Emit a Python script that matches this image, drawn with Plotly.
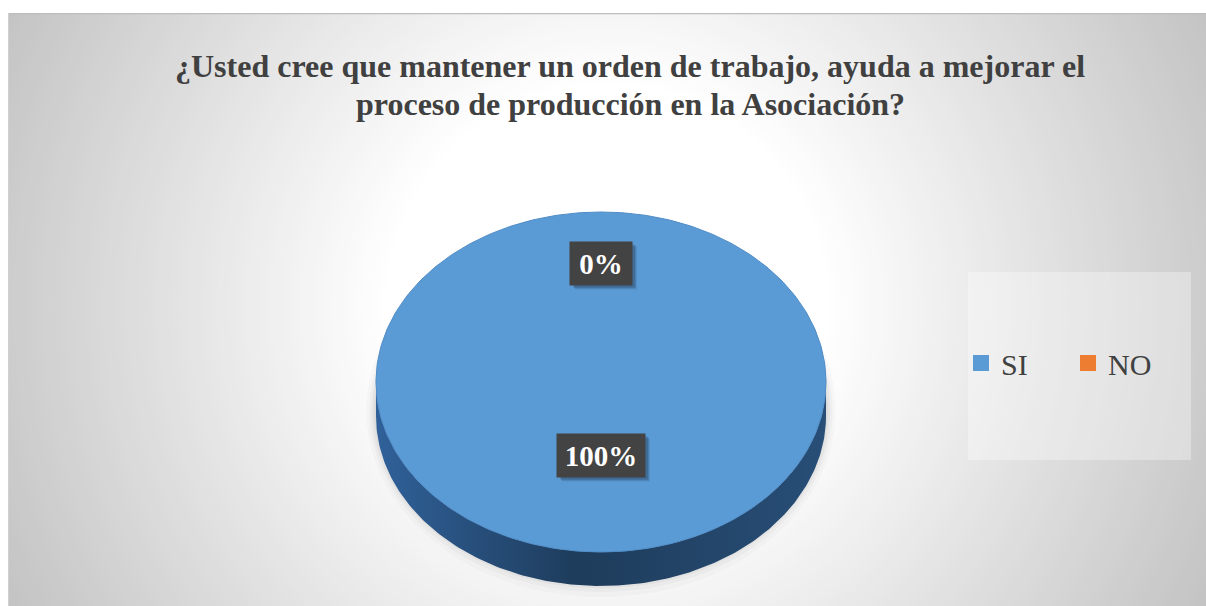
import numpy as np
import plotly.graph_objects as go

# ---------------- data ----------------
categories = ["SI", "NO"]
values = [100, 0]
slice_colors = ["#5B9BD5", "#ED7D31"]
title_lines = [
    "¿Usted cree que mantener un orden de trabajo, ayuda a mejorar el",
    "proceso de producción en la Asociación?",
]

# ---------------- geometry / style (page pixel coordinates) ----------------
PW, PH = 1206, 606                   # page (window) size
X0, Y0 = 8, 13                       # chart area top-left on the page
CX, CY, RX, RY, DEPTH = 601, 382, 225, 170, 34
SERIF = "Liberation Serif, Times New Roman, serif"
TEXT = "#404040"

fig = go.Figure()
shapes = []

# radial background gradient (concentric circles, clipped to plot area)
GCX, GCY = 607, 305
for r in range(720, 0, -6):
    level = 255 if r < 220 else max(192, 255 - 0.132 * (r - 220))
    c = int(round(level))
    shapes.append(dict(type="circle", xref="x", yref="y", layer="below",
                       x0=GCX - r, x1=GCX + r, y0=GCY - r, y1=GCY + r,
                       fillcolor=f"rgb({c},{c},{c})", line=dict(width=0)))

# soft shadow under the pie
for k, a in [(16, 0.03), (11, 0.045), (7, 0.06), (3, 0.08)]:
    shapes.append(dict(type="circle", xref="x", yref="y", layer="below",
                       x0=CX - RX - k * 0.6, x1=CX + RX + k * 0.6,
                       y0=CY + DEPTH * 0.8 - RY - k, y1=CY + DEPTH * 0.8 + RY + k + 2,
                       fillcolor=f"rgba(90,90,90,{a})", line=dict(width=0)))

# legend panel
shapes.append(dict(type="rect", xref="x", yref="y", layer="below",
                   x0=968, x1=1191, y0=272, y1=460,
                   fillcolor="rgba(255,255,255,0.32)", line=dict(width=0)))
# chart border top / left
shapes.append(dict(type="line", xref="x", yref="y", x0=X0, x1=PW, y0=Y0 + 0.5, y1=Y0 + 0.5,
                   line=dict(color="#bdbdbd", width=1.5)))
shapes.append(dict(type="line", xref="x", yref="y", x0=X0 + 0.5, x1=X0 + 0.5, y0=Y0, y1=PH,
                   line=dict(color="#d0d0d0", width=1)))


def ell(t, dy=0.0):
    return CX + RX * np.sin(t), CY - RY * np.cos(t) + dy


total = float(sum(values))
theta = 0.0
slices = []
for cat, v, col in zip(categories, values, slice_colors):
    span = 2 * np.pi * v / total
    slices.append((cat, v, theta, theta + span, col))
    theta += span

# side walls (front half only)
for cat, v, a, b, col in slices:
    lo, hi = max(a, np.pi / 2), min(b, 3 * np.pi / 2)
    if hi <= lo:
        continue
    t = np.linspace(lo, hi, 200)
    xt, yt = ell(t)
    xb, yb = ell(t[::-1], DEPTH)
    xs = np.concatenate([xt, xb, xt[:1]])
    ys = np.concatenate([yt, yb, yt[:1]])
    fig.add_trace(go.Scatter(
        x=xs, y=ys, mode="lines", fill="toself", line=dict(width=0, color="#1f3d5c"),
        fillgradient=dict(type="horizontal", start=CX - RX, stop=CX + RX,
                          colorscale=[[0, "#30619a"], [0.45, "#1e3c5b"], [1, "#284e77"]]),
        hoverinfo="skip", showlegend=False))

# top faces
for cat, v, a, b, col in slices:
    if b - a <= 0:
        continue
    t = np.linspace(a, b, 360)
    xs, ys = ell(t)
    if b - a < 2 * np.pi - 1e-9:
        xs = np.concatenate([[CX], xs, [CX]])
        ys = np.concatenate([[CY], ys, [CY]])
    fig.add_trace(go.Scatter(
        x=xs, y=ys, mode="lines", fill="toself", fillcolor=col,
        line=dict(width=1, color="#4f8cc6"),
        hoverinfo="skip", showlegend=False))

# legend entries
for cat, col in zip(categories, slice_colors):
    fig.add_trace(go.Scatter(x=[None], y=[None], mode="markers", name=cat,
                             marker=dict(symbol="square", size=17, color=col)))

# data labels (boxes with drop shadow)
annotations = []
LBL_H, LBL_PAD = 33, 5
for cat, v, a, b, col in slices:
    mid = (a + b) / 2
    frac = 0.43 if v / total >= 0.5 else 0.70
    lx, ly = CX + frac * RX * np.sin(mid), CY - frac * RY * np.cos(mid)
    txt = f"{round(100 * v / total)}%"
    w = 13 * len(txt) + 26
    hw, hh = w / 2 + LBL_PAD, LBL_H / 2 + LBL_PAD
    for s, al in [(5, 0.10), (4, 0.14), (3, 0.18)]:
        shapes.append(dict(type="rect", xref="x", yref="y", layer="above",
                           x0=lx - hw + s, x1=lx + hw + s, y0=ly - hh + s, y1=ly + hh + s,
                           fillcolor=f"rgba(20,30,50,{al})", line=dict(width=0)))
    annotations.append(dict(x=lx, y=ly, xref="x", yref="y", text=f"<b>{txt}</b>",
                            showarrow=False, width=w, height=LBL_H, borderpad=LBL_PAD,
                            bgcolor="#434343",
                            font=dict(family=SERIF, size=29, color="white")))

# title (two lines, tight line spacing)
for i, (line, yc) in enumerate(zip(title_lines, [66, 104])):
    annotations.append(dict(x=630, y=yc, xref="x", yref="y", text=f"<b>{line}</b>",
                            showarrow=False, xanchor="center", yanchor="middle",
                            font=dict(family=SERIF, size=32, color=TEXT)))

fig.update_layout(
    width=PW, height=PH,
    margin=dict(l=X0, r=0, t=Y0, b=0, pad=0, autoexpand=False),
    paper_bgcolor="white", plot_bgcolor="#c4c4c4",
    xaxis=dict(range=[X0, PW], visible=False, fixedrange=True),
    yaxis=dict(range=[PH, Y0], visible=False, fixedrange=True),
    showlegend=True,
    legend=dict(orientation="h", x=(961 - X0) / (PW - X0), xanchor="left",
                y=(PH - 363) / (PH - Y0), yanchor="middle",
                font=dict(family=SERIF, size=30, color=TEXT),
                bgcolor="rgba(0,0,0,0)", entrywidth=62, entrywidthmode="pixels"),
    shapes=shapes, annotations=annotations,
    hovermode=False,
)

fig.write_html(
    "out.html",
    config={"displayModeBar": False, "staticPlot": True},
    post_script="document.body.style.margin='0';document.body.style.overflow='hidden';",
)
